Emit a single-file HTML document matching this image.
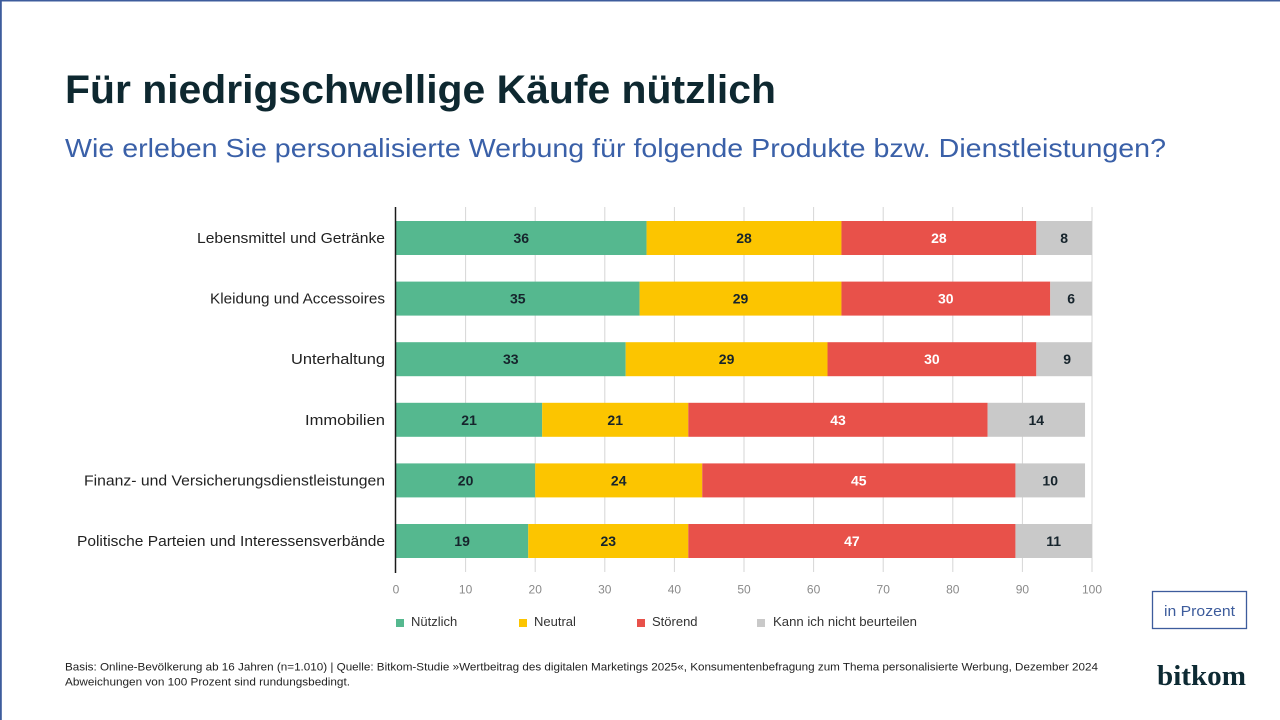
<!DOCTYPE html>
<html>
<head>
<meta charset="utf-8">
<style>
html,body{margin:0;padding:0;background:#fff;}
svg{display:block;}
text{font-family:"Liberation Sans",sans-serif;}
</style>
</head>
<body>
<svg width="1280" height="720" viewBox="0 0 1280 720" xmlns="http://www.w3.org/2000/svg">
<rect x="0" y="0" width="1280" height="720" fill="#ffffff"/>
<!-- frame -->
<rect x="0" y="0" width="1280" height="1.5" fill="#3d5c9c"/>
<rect x="0" y="0" width="1.8" height="720" fill="#3d5c9c"/>

<!-- title -->
<text x="65" y="103" font-size="40" font-weight="bold" fill="#0e2830" textLength="711" lengthAdjust="spacingAndGlyphs">Für niedrigschwellige Käufe nützlich</text>
<text x="65" y="157" font-size="26" fill="#3a60a8" textLength="1101" lengthAdjust="spacingAndGlyphs">Wie erleben Sie personalisierte Werbung für folgende Produkte bzw. Dienstleistungen?</text>

<!-- gridlines -->
<g stroke="#d6d6d6" stroke-width="1">
<line x1="465.6" y1="207" x2="465.6" y2="572"/>
<line x1="535.2" y1="207" x2="535.2" y2="572"/>
<line x1="604.8" y1="207" x2="604.8" y2="572"/>
<line x1="674.4" y1="207" x2="674.4" y2="572"/>
<line x1="744" y1="207" x2="744" y2="572"/>
<line x1="813.6" y1="207" x2="813.6" y2="572"/>
<line x1="883.2" y1="207" x2="883.2" y2="572"/>
<line x1="952.8" y1="207" x2="952.8" y2="572"/>
<line x1="1022.4" y1="207" x2="1022.4" y2="572"/>
<line x1="1092" y1="207" x2="1092" y2="572"/>
</g>

<!-- bars -->
<g>
<!-- row1 -->
<rect x="396" y="221" width="250.56" height="34" fill="#55b88f"/>
<rect x="646.56" y="221" width="194.88" height="34" fill="#fcc500"/>
<rect x="841.44" y="221" width="194.88" height="34" fill="#e8514a"/>
<rect x="1036.32" y="221" width="55.68" height="34" fill="#c9c9c9"/>
<!-- row2 -->
<rect x="396" y="281.6" width="243.6" height="34" fill="#55b88f"/>
<rect x="639.6" y="281.6" width="201.84" height="34" fill="#fcc500"/>
<rect x="841.44" y="281.6" width="208.8" height="34" fill="#e8514a"/>
<rect x="1050.24" y="281.6" width="41.76" height="34" fill="#c9c9c9"/>
<!-- row3 -->
<rect x="396" y="342.2" width="229.68" height="34" fill="#55b88f"/>
<rect x="625.68" y="342.2" width="201.84" height="34" fill="#fcc500"/>
<rect x="827.52" y="342.2" width="208.8" height="34" fill="#e8514a"/>
<rect x="1036.32" y="342.2" width="55.68" height="34" fill="#c9c9c9"/>
<!-- row4 -->
<rect x="396" y="402.8" width="146.16" height="34" fill="#55b88f"/>
<rect x="542.16" y="402.8" width="146.16" height="34" fill="#fcc500"/>
<rect x="688.32" y="402.8" width="299.28" height="34" fill="#e8514a"/>
<rect x="987.6" y="402.8" width="97.44" height="34" fill="#c9c9c9"/>
<!-- row5 -->
<rect x="396" y="463.4" width="139.2" height="34" fill="#55b88f"/>
<rect x="535.2" y="463.4" width="167.04" height="34" fill="#fcc500"/>
<rect x="702.24" y="463.4" width="313.2" height="34" fill="#e8514a"/>
<rect x="1015.44" y="463.4" width="69.6" height="34" fill="#c9c9c9"/>
<!-- row6 -->
<rect x="396" y="524" width="132.24" height="34" fill="#55b88f"/>
<rect x="528.24" y="524" width="160.08" height="34" fill="#fcc500"/>
<rect x="688.32" y="524" width="327.12" height="34" fill="#e8514a"/>
<rect x="1015.44" y="524" width="76.56" height="34" fill="#c9c9c9"/>
</g>

<!-- bar values -->
<g font-size="14" font-weight="bold" text-anchor="middle" fill="#16242c">
<text x="521.3" y="243">36</text>
<text x="744" y="243">28</text>
<text x="938.9" y="243" fill="#ffffff">28</text>
<text x="1064.2" y="243">8</text>

<text x="517.8" y="303.6">35</text>
<text x="740.5" y="303.6">29</text>
<text x="945.8" y="303.6" fill="#ffffff">30</text>
<text x="1071.1" y="303.6">6</text>

<text x="510.8" y="364.2">33</text>
<text x="726.6" y="364.2">29</text>
<text x="931.9" y="364.2" fill="#ffffff">30</text>
<text x="1067.2" y="364.2">9</text>

<text x="469.1" y="424.8">21</text>
<text x="615.2" y="424.8">21</text>
<text x="838" y="424.8" fill="#ffffff">43</text>
<text x="1036.3" y="424.8">14</text>

<text x="465.6" y="485.4">20</text>
<text x="618.7" y="485.4">24</text>
<text x="858.8" y="485.4" fill="#ffffff">45</text>
<text x="1050.2" y="485.4">10</text>

<text x="462.1" y="546">19</text>
<text x="608.3" y="546">23</text>
<text x="851.9" y="546" fill="#ffffff">47</text>
<text x="1053.7" y="546">11</text>
</g>

<!-- axis line -->
<line x1="395.5" y1="207" x2="395.5" y2="573" stroke="#1a1a1a" stroke-width="1.5"/>

<!-- category labels -->
<g font-size="15" fill="#222" text-anchor="end">
<text x="385" y="243" textLength="188" lengthAdjust="spacingAndGlyphs">Lebensmittel und Getränke</text>
<text x="385" y="303.6" textLength="175" lengthAdjust="spacingAndGlyphs">Kleidung und Accessoires</text>
<text x="385" y="364.2" textLength="94" lengthAdjust="spacingAndGlyphs">Unterhaltung</text>
<text x="385" y="424.8" textLength="80" lengthAdjust="spacingAndGlyphs">Immobilien</text>
<text x="385" y="485.4" textLength="301" lengthAdjust="spacingAndGlyphs">Finanz- und Versicherungsdienstleistungen</text>
<text x="385" y="546" textLength="308" lengthAdjust="spacingAndGlyphs">Politische Parteien und Interessensverbände</text>
</g>

<!-- tick labels -->
<g font-size="12" fill="#8a8a8a" text-anchor="middle">
<text x="396" y="593.5">0</text>
<text x="465.6" y="593.5">10</text>
<text x="535.2" y="593.5">20</text>
<text x="604.8" y="593.5">30</text>
<text x="674.4" y="593.5">40</text>
<text x="744" y="593.5">50</text>
<text x="813.6" y="593.5">60</text>
<text x="883.2" y="593.5">70</text>
<text x="952.8" y="593.5">80</text>
<text x="1022.4" y="593.5">90</text>
<text x="1092" y="593.5">100</text>
</g>

<!-- legend -->
<g font-size="13" fill="#333">
<rect x="396" y="619" width="8" height="8" fill="#55b88f"/>
<text x="411" y="626">Nützlich</text>
<rect x="519" y="619" width="8" height="8" fill="#fcc500"/>
<text x="534" y="626">Neutral</text>
<rect x="637" y="619" width="8" height="8" fill="#e8514a"/>
<text x="652" y="626">Störend</text>
<rect x="757" y="619" width="8" height="8" fill="#c9c9c9"/>
<text x="773" y="626" textLength="144" lengthAdjust="spacingAndGlyphs">Kann ich nicht beurteilen</text>
</g>

<!-- in Prozent box -->
<rect x="1152.5" y="591.5" width="94" height="37" fill="none" stroke="#3d5c9c" stroke-width="1.3"/>
<text x="1199.5" y="616" font-size="15" fill="#3d5c9c" text-anchor="middle" textLength="71" lengthAdjust="spacingAndGlyphs">in Prozent</text>

<!-- footer -->
<g font-size="11" fill="#222">
<text x="65" y="670.5" textLength="1033" lengthAdjust="spacingAndGlyphs">Basis: Online-Bevölkerung ab 16 Jahren (n=1.010) | Quelle: Bitkom-Studie »Wertbeitrag des digitalen Marketings 2025«, Konsumentenbefragung zum Thema personalisierte Werbung, Dezember 2024</text>
<text x="65" y="685.5" textLength="285" lengthAdjust="spacingAndGlyphs">Abweichungen von 100 Prozent sind rundungsbedingt.</text>
</g>

<!-- logo -->
<text x="1157" y="685" font-family="Liberation Serif, serif" font-size="28" font-weight="bold" fill="#0d2a33" textLength="89" lengthAdjust="spacingAndGlyphs" style="font-family:'Liberation Serif',serif;">bitkom</text>
</svg>
</body>
</html>
